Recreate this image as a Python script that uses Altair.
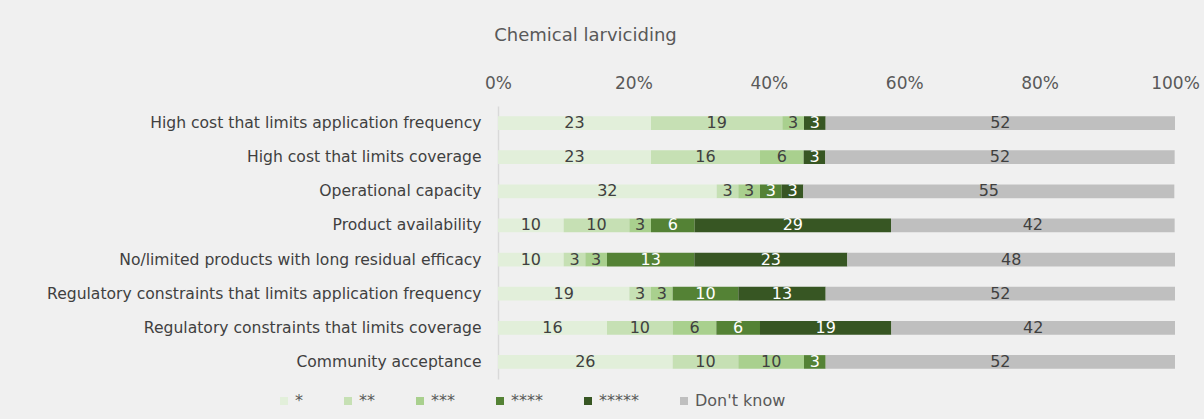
import altair as alt
import pandas as pd

# Survey items (rows, top to bottom)
items = [
    "High cost that limits application frequency",
    "High cost that limits coverage",
    "Operational capacity",
    "Product availability",
    "No/limited products with long residual efficacy",
    "Regulatory constraints that limits application frequency",
    "Regulatory constraints that limits coverage",
    "Community acceptance",
]

# Rating levels (stack order, left to right)
levels = ["*", "**", "***", "****", "*****", "Don't know"]
colors = ["#e2efda", "#c6e0b4", "#a9d08e", "#548235", "#375623", "#bfbfbf"]

# Share of respondents (%) per item, one list per rating level
one_star   = [22.6, 22.6, 32.3,  9.7,  9.7, 19.4, 16.1, 25.8]
two_star   = [19.4, 16.1,  3.2,  9.7,  3.2,  3.2,  9.7,  9.7]
three_star = [ 3.2, 6.45,  3.2,  3.2,  3.2,  3.2, 6.45,  9.7]
four_star  = [ 0.0,  0.0,  3.2, 6.45, 12.9,  9.7, 6.45,  3.2]
five_star  = [ 3.2,  3.2,  3.2, 29.0, 22.6, 12.9, 19.4,  0.0]
dont_know  = [51.6, 51.6, 54.8, 41.9, 48.4, 51.6, 41.9, 51.6]

series = [one_star, two_star, three_star, four_star, five_star, dont_know]

rows = []
for li, (lev, vals) in enumerate(zip(levels, series)):
    for item, v in zip(items, vals):
        rows.append({"item": item, "level": lev, "ord": li, "pct": v})
df = pd.DataFrame(rows)

FONT = "DejaVu Sans"
TEXT = "#595959"

base = alt.Chart(df).transform_stack(
    stack="pct", groupby=["item"], sort=[{"field": "ord"}], as_=["x0", "x1"]
).transform_calculate(mid="(datum.x0 + datum.x1) / 2")

y_enc = alt.Y(
    "item:N",
    sort=items,
    scale=alt.Scale(paddingInner=0.6, paddingOuter=0.3),
    axis=alt.Axis(
        title=None, ticks=False, domainColor="#d9d9d9", domainWidth=1.5,
        labelFontSize=15.6, labelColor="#404040", labelPadding=17, labelFont=FONT,
        labelLimit=600,
    ),
)

bars = base.mark_bar().encode(
    x=alt.X(
        "x0:Q",
        scale=alt.Scale(domain=[0, 100], nice=False),
        axis=alt.Axis(
            orient="top", values=[0, 20, 40, 60, 80, 100], labelExpr="datum.value + '%'",
            title=None, domain=False, ticks=False, grid=False, labelAlign="center",
            labelFontSize=17, labelColor=TEXT, labelPadding=14, labelFont=FONT,
        ),
    ),
    x2="x1:Q",
    y=y_enc,
    color=alt.Color(
        "level:N",
        scale=alt.Scale(domain=levels, range=colors),
        legend=alt.Legend(
            title=None, orient="none", direction="horizontal",
            legendX=-222, legendY=287, symbolType="square", symbolSize=64,
            symbolStrokeWidth=0, labelFontSize=16, labelColor=TEXT, labelFont=FONT,
            columnPadding=37, labelOffset=3,
        ),
    ),
    order=alt.Order("ord:Q"),
)

labels = base.transform_filter("datum.pct > 0").mark_text(
    fontSize=16, font=FONT, baseline="middle", align="center"
).encode(
    x=alt.X("mid:Q"),
    y=alt.Y("item:N", sort=items),
    text=alt.Text("pct:Q", format=".0f"),
    color=alt.condition(
        "datum.level == '****' || datum.level == '*****'",
        alt.value("white"),
        alt.value("#404040"),
    ),
)

chart = alt.layer(bars, labels).properties(
    width=677,
    height=273,
    title=alt.TitleParams(
        "Chemical larviciding", fontSize=18, font=FONT, fontWeight="normal",
        color=TEXT, anchor="middle", dx=-251, offset=29,
    ),
    autosize=alt.AutoSizeParams(type="none"),
    padding={"left": 498, "top": 106, "right": 29, "bottom": 40},
    background="#f0f0f0",
).configure_view(stroke=None)

chart.save("out.html", embed_options={"renderer": "svg", "actions": False})
